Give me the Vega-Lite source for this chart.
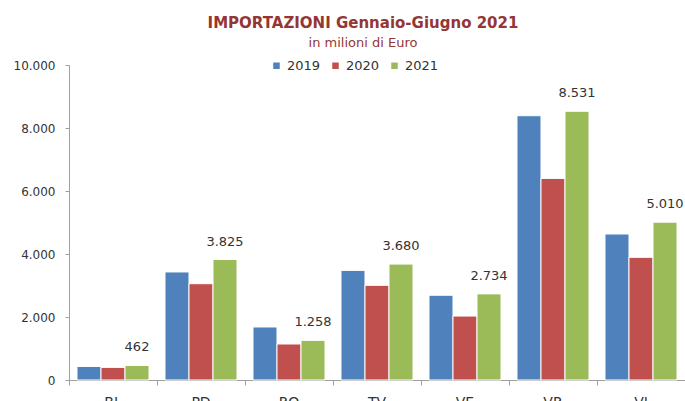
{
  "$schema": "https://vega.github.io/schema/vega-lite/v6.json",
  "width": 616,
  "height": 315,
  "autosize": "none",
  "padding": {"left": 69, "top": 65, "right": 0, "bottom": 21},
  "background": "white",
  "config": {
    "locale": {"number": {"decimal": ",", "thousands": ".", "grouping": [3], "currency": ["", " €"]}},
    "view": {"stroke": null},
    "font": "DejaVu Sans"
  },
  "title": {
    "text": "IMPORTAZIONI Gennaio-Giugno 2021",
    "subtitle": "in milioni di Euro",
    "anchor": "middle",
    "dx": -14,
    "offset": 9,
    "fontSize": 15,
    "fontWeight": "bold",
    "color": "#943634",
    "font": "DejaVu Sans",
    "subtitleFont": "DejaVu Sans",
    "subtitleFontSize": 13,
    "subtitleColor": "#943634",
    "subtitlePadding": 6
  },
  "data": {
    "values": [
      {"prov": "BL", "anno": "2019", "valore": 430},
      {"prov": "BL", "anno": "2020", "valore": 400},
      {"prov": "BL", "anno": "2021", "valore": 462},
      {"prov": "PD", "anno": "2019", "valore": 3430},
      {"prov": "PD", "anno": "2020", "valore": 3057},
      {"prov": "PD", "anno": "2021", "valore": 3825},
      {"prov": "RO", "anno": "2019", "valore": 1683},
      {"prov": "RO", "anno": "2020", "valore": 1143},
      {"prov": "RO", "anno": "2021", "valore": 1258},
      {"prov": "TV", "anno": "2019", "valore": 3480},
      {"prov": "TV", "anno": "2020", "valore": 3005},
      {"prov": "TV", "anno": "2021", "valore": 3680},
      {"prov": "VE", "anno": "2019", "valore": 2690},
      {"prov": "VE", "anno": "2020", "valore": 2030},
      {"prov": "VE", "anno": "2021", "valore": 2734},
      {"prov": "VR", "anno": "2019", "valore": 8390},
      {"prov": "VR", "anno": "2020", "valore": 6400},
      {"prov": "VR", "anno": "2021", "valore": 8531},
      {"prov": "VI", "anno": "2019", "valore": 4635},
      {"prov": "VI", "anno": "2020", "valore": 3895},
      {"prov": "VI", "anno": "2021", "valore": 5010}
    ]
  },
  "encoding": {
    "x": {
      "field": "prov", "type": "nominal", "sort": null,
      "scale": {"paddingInner": 0, "paddingOuter": 0},
      "axis": {
        "title": null, "labelAngle": 0, "bandPosition": 0, "ticks": true, "tickSize": 5,
        "labelPadding": 10, "labelFontSize": 14, "labelColor": "#333333",
        "domainColor": "#a0a0a0", "tickColor": "#a0a0a0", "grid": false
      }
    },
    "xOffset": {"field": "anno", "type": "nominal", "scale": {"paddingInner": 0, "paddingOuter": 0.333}},
    "y": {
      "field": "valore", "type": "quantitative",
      "scale": {"domain": [0, 10000], "nice": false},
      "axis": {
        "title": null, "grid": false, "values": [0, 2000, 4000, 6000, 8000, 10000],
        "format": ",d", "tickSize": 4, "labelPadding": 10, "labelFontSize": 12,
        "labelColor": "#333333", "domainColor": "#a0a0a0", "tickColor": "#a0a0a0"
      }
    }
  },
  "layer": [
    {
      "mark": {"type": "bar", "stroke": "white", "strokeWidth": 1},
      "encoding": {
        "color": {
          "field": "anno", "type": "nominal",
          "scale": {"domain": ["2019", "2020", "2021"], "range": ["#4F81BD", "#C0504D", "#9BBB59"]},
          "legend": {
            "title": null, "orient": "none", "legendX": 201, "legendY": -6,
            "direction": "horizontal", "symbolType": "square", "symbolSize": 64,
            "labelFontSize": 13, "labelColor": "#333333", "columnPadding": 7, "labelOffset": 4
          }
        }
      }
    },
    {
      "transform": [{"filter": "datum.anno == '2021'"}],
      "mark": {"type": "text", "dy": -18, "fontSize": 13, "color": "#333333", "baseline": "middle"},
      "encoding": {
        "text": {"field": "valore", "type": "quantitative", "format": ",d"}
      }
    }
  ]
}
